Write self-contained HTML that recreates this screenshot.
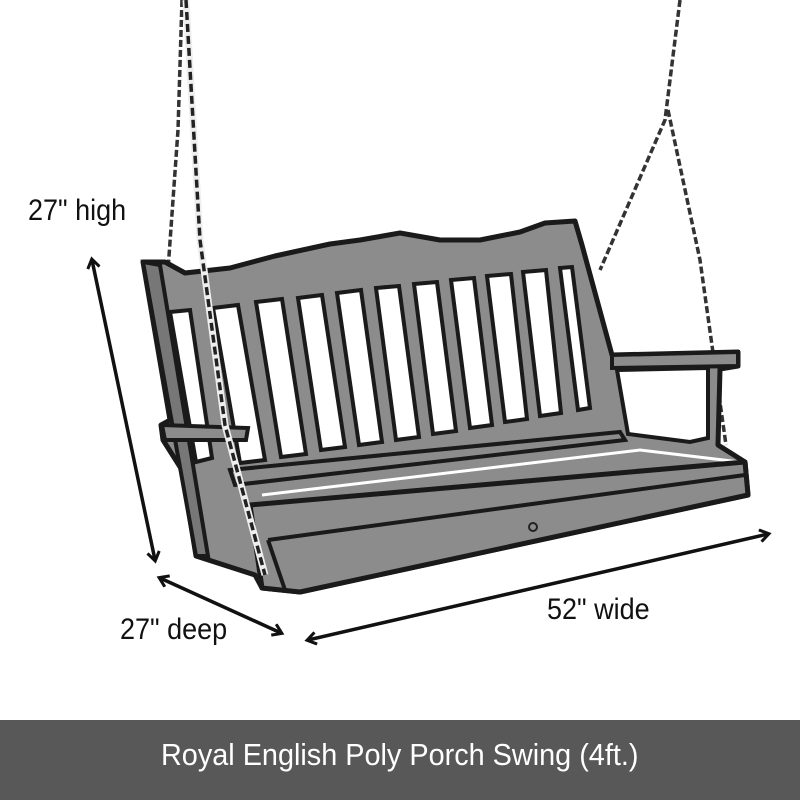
<!DOCTYPE html>
<html><head><meta charset="utf-8"><style>
html,body{margin:0;padding:0;background:#fff;}
#w{position:relative;width:800px;height:800px;overflow:hidden;background:#fff;font-family:"Liberation Sans Narrow","Liberation Sans",sans-serif;}
.lbl{position:absolute;font-size:30px;color:#111;white-space:nowrap;transform-origin:left top;transform:scaleX(0.9);}
#ban{position:absolute;left:0;top:720px;width:800px;height:80px;background:#585858;color:#fff;font-size:31px;text-align:center;line-height:70px;}
#ban span{display:inline-block;transform:scaleX(0.93);}
</style></head><body><div id="w">
<svg width="800" height="720" style="position:absolute;left:0;top:0">
<defs>
<marker id="ah" markerWidth="14" markerHeight="14" refX="10" refY="7" orient="auto-start-reverse" markerUnits="userSpaceOnUse">
<path d="M2,1 L11,7 L2,13" fill="none" stroke="#111" stroke-width="3"/></marker>
</defs>
<g fill="none" stroke="#333" stroke-width="3.5" stroke-dasharray="7 3">
<path d="M182,0 L178,130 L168,270"/>
<path d="M680,0 L665,120 L600,270"/>
<path d="M668,110 L700,260 L726,445"/>
</g>
<path d="M143,262 L165,262 L185,273 L230,268 L275,256 L330,244 L360,240 L400,233 L440,240 L480,240 L520,232 L545,223 L575,221 L582,245 L612,355 L738,352 L738,366 L720,369 L718,445 L745,462 L748,495 L300,592 L262,588 L255,575 L196,556 L182,470 L163,440 L161,425 L170,420 Z" fill="#8c8c8c" stroke="#1a1a1a" stroke-width="5" stroke-linejoin="round"/>
<path d="M617,370 L708,368 L708,438 L690,442 L628,434 Z" fill="#fff" stroke="#1a1a1a" stroke-width="4"/>
<g fill="#fff" stroke="#1a1a1a" stroke-width="4">
<path d="M170,312 L190,310 L212,458 L196,462 Z"/>
<path d="M213,308 L238,305 L265,460 L240,463 Z"/>
<path d="M256,302 L282,299 L306,454 L281,457 Z"/>
<path d="M298,298 L322,295 L345,447 L321,450 Z"/>
<path d="M337,293 L361,290 L382,442 L359,445 Z"/>
<path d="M376,288 L399,286 L419,437 L396,440 Z"/>
<path d="M414,284 L437,282 L456,431 L433,434 Z"/>
<path d="M451,280 L474,278 L492,425 L470,428 Z"/>
<path d="M487,276 L511,274 L527,419 L505,422 Z"/>
<path d="M523,272 L546,270 L561,413 L540,416 Z"/>
<path d="M560,268 L572,267 L590,408 L578,410 Z"/>
</g>
<path d="M230,470 L620,432 L625,440 L235,485 Z" fill="#8c8c8c" stroke="#1a1a1a" stroke-width="4"/>
<path d="M262,495 L640,450 L740,462" fill="none" stroke="#fff" stroke-width="3"/>
<path d="M250,505 L745,462 L748,495 L300,592 L262,588 Z" fill="#8c8c8c" stroke="#1a1a1a" stroke-width="5" stroke-linejoin="round"/>
<path d="M268,540 L745,475" fill="none" stroke="#1a1a1a" stroke-width="4"/>
<path d="M268,540 L285,590" fill="none" stroke="#1a1a1a" stroke-width="4"/>
<circle cx="533" cy="527" r="4" fill="none" stroke="#222" stroke-width="2"/>
<path d="M143,262 L160,265 L208,556 L196,556 Z" fill="#777" stroke="#1a1a1a" stroke-width="4"/>
<path d="M162,425 L248,428 L246,440 L165,440 Z" fill="#8c8c8c" stroke="#1a1a1a" stroke-width="4"/>
<path d="M612,355 L738,352 L738,366 L612,368 Z" fill="#8c8c8c" stroke="#1a1a1a" stroke-width="4"/>
<path d="M186,0 L200,240 L225,425 L265,575" fill="none" stroke="#eee" stroke-width="7"/>
<path d="M186,0 L200,240 L225,425 L265,575" fill="none" stroke="#222" stroke-width="3.5" stroke-dasharray="8 4"/>
<g stroke="#111" stroke-width="3.5" fill="none">
<line x1="92" y1="260" x2="155" y2="560" marker-start="url(#ah)" marker-end="url(#ah)"/>
<line x1="160" y1="578" x2="281" y2="633" marker-start="url(#ah)" marker-end="url(#ah)"/>
<line x1="308" y1="640" x2="768" y2="534" marker-start="url(#ah)" marker-end="url(#ah)"/>
</g>
</svg>
<div class="lbl" style="left:28px;top:194px;">27" high</div>
<div class="lbl" style="left:120px;top:613px;">27" deep</div>
<div class="lbl" style="left:547px;top:593px;">52" wide</div>
<div id="ban"><span>Royal English Poly Porch Swing (4ft.)</span></div>
</div></body></html>
